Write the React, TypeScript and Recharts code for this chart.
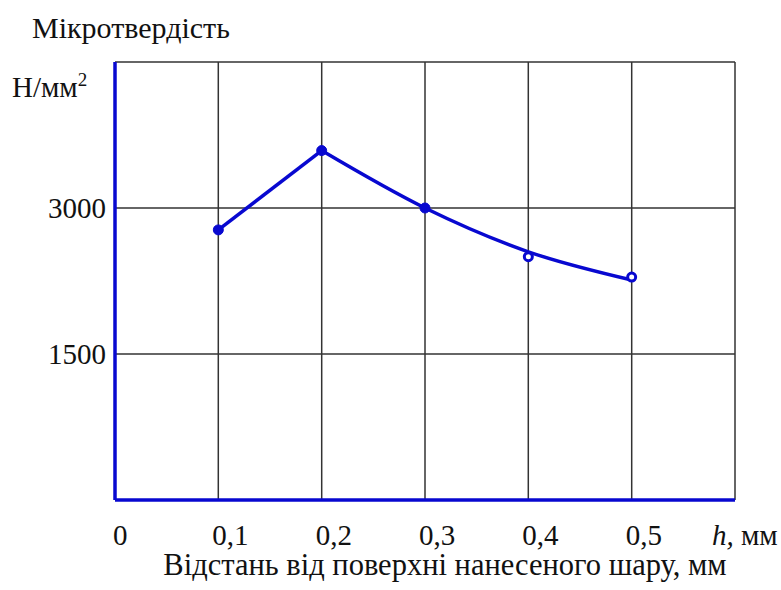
import React from "react";
import {
  LineChart,
  Line,
  XAxis,
  YAxis,
  CartesianGrid,
} from "recharts";

// h, мм
const depth = [0.1, 0.2, 0.3, 0.4, 0.5];
// measured microhardness, Н/мм²
const hardness = [2775, 3590, 3000, 2500, 2290];
// drawn trend line (straight rise, smooth fall)
const trend = [2775, 3590, 3000, 2550, 2260];

const xTicks = [0, 0.1, 0.2, 0.3, 0.4, 0.5, 0.6];
const xTickLabels = ["0", "0,1", "0,2", "0,3", "0,4", "0,5", "h"];
const yTicks = [0, 1500, 3000, 4500];
const yTickLabels = ["", "1500", "3000", ""];

const data = depth.map((h, i) => ({
  h,
  point: hardness[i],
  rise: i <= 1 ? trend[i] : null,
  fall: i >= 1 ? trend[i] : null,
}));

const BLUE = "#0808d0";
const FONT = "'Liberation Serif', 'Times New Roman', serif";

const XTick = (props: any) => {
  const { x, y, index } = props;
  const label = xTickLabels[index];
  if (label === "h") {
    return (
      <text x={x - 23} y={y + 37} textAnchor="start" fontFamily={FONT} fontSize={29} fill="#111">
        <tspan fontStyle="italic">h,</tspan>
        <tspan> мм</tspan>
      </text>
    );
  }
  return (
    <text x={index === 0 ? x - 2 : x - 6} y={y + 37} textAnchor="start" fontFamily={FONT} fontSize={29} fill="#111">
      {label}
    </text>
  );
};

const YTick = (props: any) => {
  const { x, y, index } = props;
  return (
    <text x={x - 1} y={y + 10} textAnchor="end" fontFamily={FONT} fontSize={29} fill="#111">
      {yTickLabels[index]}
    </text>
  );
};

const Marker = (props: any) => {
  const { cx, cy, index } = props;
  if (cx == null || cy == null) return null;
  const open = index >= 3;
  return (
    <circle
      key={"m" + index}
      cx={cx}
      cy={cy}
      r={open ? 4 : 5}
      fill={open ? "#fff" : BLUE}
      stroke={BLUE}
      strokeWidth={open ? 3 : 1}
    />
  );
};

export default function App() {
  return (
    <div style={{ position: "absolute", left: 0, top: 0, width: 781, height: 590, background: "#fff" }}>
      <div style={{ position: "absolute", left: 32, top: 10, fontFamily: FONT, fontSize: 30, color: "#111", whiteSpace: "nowrap", lineHeight: "36px" }}>
        Мікротвердість
      </div>
      <div style={{ position: "absolute", left: 12, top: 62, fontFamily: FONT, fontSize: 29, color: "#111", whiteSpace: "nowrap", lineHeight: "36px" }}>
        Н/мм<sup style={{ fontSize: 19 }}>2</sup>
      </div>
      <div style={{ position: "absolute", left: 0, width: 890, top: 547, textAlign: "center", fontFamily: FONT, fontSize: 30.5, color: "#111", whiteSpace: "nowrap", lineHeight: "36px" }}>
        Відстань від поверхні нанесеного шару, мм
      </div>
      <LineChart
        width={781}
        height={590}
        data={data}
        margin={{ top: 62, right: 46, left: 0, bottom: 0 }}
      >
        <CartesianGrid
          stroke="#333"
          strokeWidth={1.5}
          verticalPoints={[218.3, 321.7, 425, 528.3, 631.7, 735]}
          horizontalPoints={[62, 208, 354]}
        />
        <XAxis
          dataKey="h"
          type="number"
          domain={[0, 0.6]}
          ticks={xTicks}
          height={90}
          axisLine={{ stroke: BLUE, strokeWidth: 3.5 }}
          tickLine={false}
          tick={<XTick />}
          interval={0}
        />
        <YAxis
          type="number"
          domain={[0, 4500]}
          ticks={yTicks}
          width={115}
          axisLine={{ stroke: BLUE, strokeWidth: 3.5 }}
          tickLine={false}
          tick={<YTick />}
          interval={0}
        />
        <Line
          dataKey="rise"
          type="linear"
          stroke={BLUE}
          strokeWidth={3.5}
          dot={false}
          connectNulls={false}
          isAnimationActive={false}
        />
        <Line
          dataKey="fall"
          type="monotone"
          stroke={BLUE}
          strokeWidth={3.5}
          dot={false}
          connectNulls={false}
          isAnimationActive={false}
        />
        <Line
          dataKey="point"
          stroke="none"
          dot={<Marker />}
          activeDot={false}
          isAnimationActive={false}
        />
      </LineChart>
    </div>
  );
}
